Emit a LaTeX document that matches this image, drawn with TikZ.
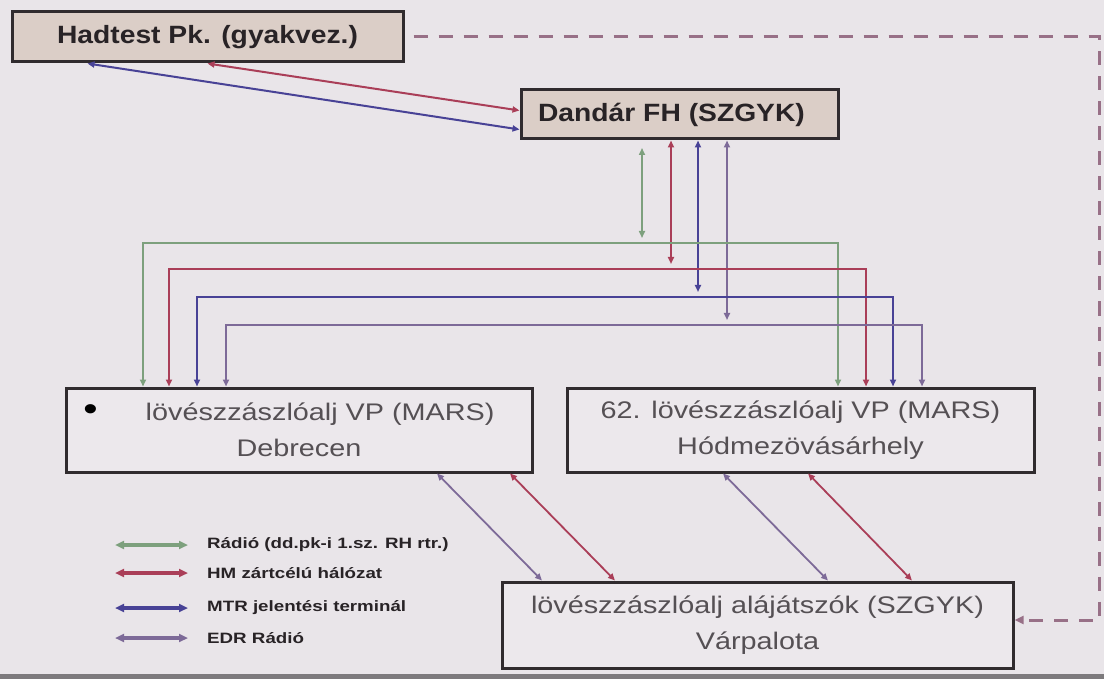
\documentclass[tikz,border=0pt]{standalone}
\usepackage{fontspec}
\setmainfont{Liberation Sans}
\newfontfamily\titlefont[FakeStretch=1.13]{Liberation Sans}
\newfontfamily\unitfont[FakeStretch=1.2]{Liberation Sans}
\newfontfamily\legfont[FakeStretch=1.25]{Liberation Sans}
\usetikzlibrary{arrows.meta}

\definecolor{slidebg}{RGB}{233,229,233}
\definecolor{tanfill}{RGB}{219,206,199}
\definecolor{unitfill}{RGB}{236,232,236}
\definecolor{boxline}{RGB}{48,43,46}
\definecolor{titletext}{RGB}{40,35,38}
\definecolor{unittext}{RGB}{85,80,84}
\definecolor{radiocol}{RGB}{125,160,125}
\definecolor{hmcol}{RGB}{170,62,88}
\definecolor{mtrcol}{RGB}{72,66,150}
\definecolor{edrcol}{RGB}{125,106,152}
\definecolor{dashcol}{RGB}{152,112,135}
\definecolor{stripe}{RGB}{125,122,125}

\begin{document}
\begin{tikzpicture}[x=1pt,y=-1pt,
  topbox/.style={draw=boxline,line width=3pt,fill=tanfill,text=titletext,
    font=\titlefont\fontsize{25}{30}\selectfont\bfseries,inner sep=0pt},
  unitbox/.style={draw=boxline,line width=3pt,fill=unitfill,text=unittext,
    font=\unitfont\fontsize{24}{36}\selectfont,align=center,inner sep=0pt},
  link/.style={line width=2pt,{Triangle[length=7pt,width=6pt]}-{Triangle[length=7pt,width=6pt]}},
  radio/.style={link,draw=radiocol,line width=1.6pt},
  hm/.style={link,draw=hmcol},
  mtr/.style={link,draw=mtrcol},
  edr/.style={link,draw=edrcol},
  legline/.style={line width=3.5pt,{Triangle[length=9pt,width=8pt]}-{Triangle[length=9pt,width=8pt]}},
  legtext/.style={anchor=west,inner sep=0pt,text=titletext,
    font=\legfont\fontsize{15}{17}\selectfont\bfseries}]

% slide background
\useasboundingbox[fill=slidebg] (0,0) rectangle (1104,679);
\fill[stripe] (0,674) rectangle (1104,679);

% boxes
\node[topbox,minimum width=391pt,minimum height=50pt]
(H)
at (207.5,37)
{Hadtest Pk. (gyakvez.)};

\node[topbox,minimum width=317pt,minimum height=49pt]
(D)
at (679.5,114.5)
{Dandár FH (SZGYK)\hspace*{16pt}};

\node[unitbox,minimum width=466pt,minimum height=84pt]
(Deb)
at (299,430)
{{\color{black}\fontsize{34}{36}\selectfont\textbullet}\hspace{48pt}lövészzászlóalj VP (MARS)\hspace*{20pt}\\Debrecen};

\node[unitbox,minimum width=467pt,minimum height=84pt]
(Hod)
at (800.5,430)
{62. lövészzászlóalj VP (MARS)\\Hódmezövásárhely};

\node[unitbox,minimum width=511pt,minimum height=86pt]
(V)
at (757.5,625)
{lövészzászlóalj alájátszók (SZGYK)\\Várpalota};

% Hadtest -- Dandar
\draw[hm] (H.south) -- ([yshift=4pt]D.west);
\draw[mtr] ([xshift=-120pt]H.south) -- ([yshift=-15pt]D.west);

% buses
\coordinate (gl) at (143,243);
\coordinate (gr) at (838,243);
\coordinate (gd) at (642,148);
\coordinate (rl) at (169,269);
\coordinate (rr) at (866,269);
\coordinate (rd) at (671,0);
\coordinate (bl) at (197,297);
\coordinate (br) at (893,297);
\coordinate (bd) at (698,0);
\coordinate (pl) at (226,325);
\coordinate (pr) at (922,325);
\coordinate (pd) at (727,0);

\draw[radio] (gd) -- ([yshift=5pt]gd |- gl);
\draw[hm] (D.south -| rd) -- ([yshift=5pt]rd |- rl);
\draw[mtr] (D.south -| bd) -- ([yshift=5pt]bd |- bl);
\draw[edr] (D.south -| pd) -- ([yshift=5pt]pd |- pl);

\draw[radio] (Deb.north -| gl) |- (gr) -- (Hod.north -| gr);
\draw[hm] (Deb.north -| rl) |- (rr) -- (Hod.north -| rr);
\draw[mtr] (Deb.north -| bl) |- (br) -- (Hod.north -| br);
\draw[edr] (Deb.north -| pl) |- (pr) -- (Hod.north -| pr);

% to Varpalota
\draw[edr,line width=1.8pt] ([xshift=138pt]Deb.south) -- ([xshift=-215.5pt]V.north);
\draw[hm,line width=1.8pt] ([xshift=211pt]Deb.south) -- ([xshift=-142.5pt]V.north);
\draw[edr,line width=1.8pt] ([xshift=-77.5pt]Hod.south) -- ([xshift=70.5pt]V.north);
\draw[hm,line width=1.8pt] ([xshift=7.5pt]Hod.south) -- ([xshift=154.5pt]V.north);

% dashed
\coordinate (dc) at (1099,37);
\draw[dashcol,line width=3pt,dash pattern=on 14pt off 11pt,-{Triangle[length=9pt,width=8pt]}]
  ([xshift=9pt]H.east) -- (dc) |- ([yshift=5pt]V.east);

% legend
\node[legtext] (l1) at (207,545) {Rádió (dd.pk-i 1.sz. RH rtr.)};
\node[legtext] (l2) at (207,573) {HM zártcélú hálózat};
\node[legtext] (l3) at (207,608) {MTR jelentési terminál};
\node[legtext] (l4) at (207,638) {EDR Rádió};

\draw[legline,radiocol] ([xshift=-92pt]l1.west) -- ([xshift=-19pt]l1.west);
\draw[legline,hmcol] ([xshift=-92pt]l2.west) -- ([xshift=-19pt]l2.west);
\draw[legline,mtrcol] ([xshift=-92pt]l3.west) -- ([xshift=-19pt]l3.west);
\draw[legline,edrcol] ([xshift=-92pt]l4.west) -- ([xshift=-19pt]l4.west);

\end{tikzpicture}
\end{document}
